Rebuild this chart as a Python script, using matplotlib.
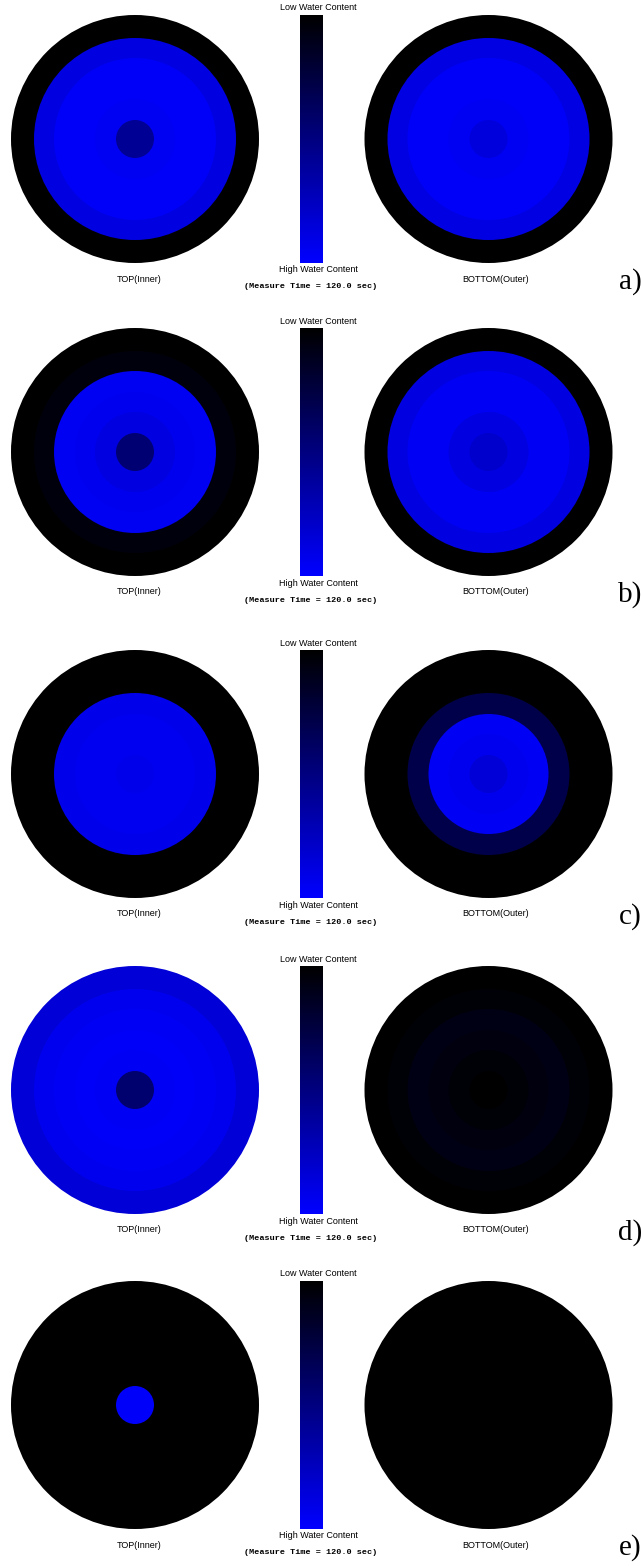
import matplotlib
matplotlib.use("Agg")
import matplotlib.pyplot as plt
from matplotlib.patches import Circle
from matplotlib.colors import LinearSegmentedColormap, Normalize
from matplotlib.colorbar import ColorbarBase

# Water content per ring, ordered from the centre outwards (0 = low, 1 = high)
panel_labels = ["a)", "b)", "c)", "d)", "e)"]
top_a = [0.58, 0.95, 0.97, 0.97, 0.88, 0.00]
bottom_a = [0.86, 0.95, 0.97, 0.97, 0.89, 0.00]
top_b = [0.45, 0.88, 0.93, 0.95, 0.05, 0.00]
bottom_b = [0.80, 0.88, 0.96, 0.96, 0.88, 0.00]
top_c = [0.92, 0.94, 0.94, 0.92, 0.00, 0.00]
bottom_c = [0.84, 0.93, 0.96, 0.29, 0.00, 0.00]
top_d = [0.43, 0.96, 0.97, 0.96, 0.93, 0.84]
bottom_d = [0.00, 0.03, 0.06, 0.08, 0.03, 0.00]
top_e = [0.98, 0.00, 0.00, 0.00, 0.00, 0.00]
bottom_e = [0.00, 0.00, 0.00, 0.00, 0.00, 0.00]

top_values = [top_a, top_b, top_c, top_d, top_e]
bottom_values = [bottom_a, bottom_b, bottom_c, bottom_d, bottom_e]

side_titles = ["TOP(Inner)", "BOTTOM(Outer)"]
low_label = "Low Water Content"
high_label = "High Water Content"
time_label = "(Measure Time = 120.0 sec)"

# Layout (pixel units)
W, H = 641, 1566
ring_radii = [19, 40, 60, 81, 101, 124]
row_centres = [139, 452, 774, 1090, 1405]
disk_x = [135, 488.5]
title_x = [139, 496]
cbar_x0, cbar_w = 300, 23

cmap = LinearSegmentedColormap.from_list("water", [(0, 0, 0.0), (0, 0, 1.0)])
norm = Normalize(0, 1)

fig = plt.figure(figsize=(W / 100, H / 100), dpi=100)
ax = fig.add_axes([0, 0, 1, 1])
ax.set_xlim(0, W)
ax.set_ylim(H, 0)
ax.axis("off")

sans = "Liberation Sans"
mono = "Liberation Mono"
R = ring_radii[-1]

for row, cy in enumerate(row_centres):
    for side, vals in enumerate([top_values[row], bottom_values[row]]):
        cx = disk_x[side]
        # paint from the outer ring inwards so inner rings sit on top
        for r, v in zip(ring_radii[::-1], vals[::-1]):
            ax.add_patch(Circle((cx, cy), r, facecolor=cmap(norm(v)),
                                edgecolor="none", antialiased=True))
        ax.text(title_x[side], cy + R + 16, side_titles[side],
                ha="center", va="center", fontsize=6.5, family=sans)

    # colour scale between the two disks, low at the top
    cax = fig.add_axes([cbar_x0 / W, 1 - (cy + R) / H, cbar_w / W, 2 * R / H])
    cb = ColorbarBase(cax, cmap=cmap, norm=norm, orientation="vertical")
    cb.set_ticks([])
    cb.outline.set_visible(False)
    cax.invert_yaxis()

    ax.text(318, cy - R - 7, low_label, ha="center", va="center",
            fontsize=6.5, family=sans)
    ax.text(318, cy + R + 7, high_label, ha="center", va="center",
            fontsize=6.5, family=sans)
    ax.text(311, cy + R + 24, time_label, ha="center", va="center",
            fontsize=6.1, family=mono, fontweight="bold")
    ax.text(642, cy + R + 19, panel_labels[row], ha="right", va="center",
            fontsize=21, family="Liberation Serif")

fig.savefig("out.png", dpi=100)
